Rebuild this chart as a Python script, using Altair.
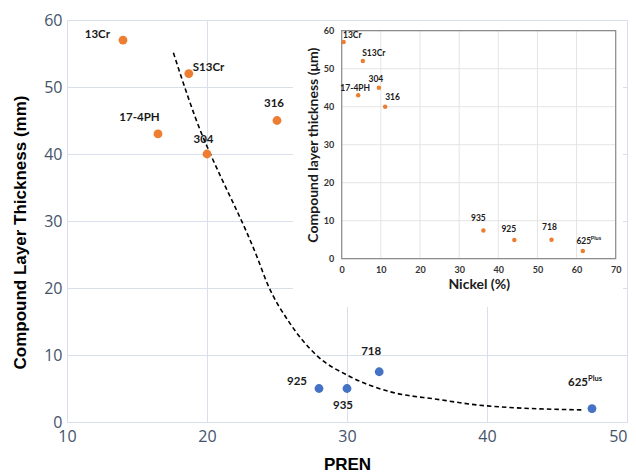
import altair as alt
import pandas as pd

# ---------------- data ----------------
# main chart: compound layer thickness vs PREN
grades = ["13Cr", "S13Cr", "17-4PH", "304", "316", "925", "935", "718", "625"]
pren = [14.0, 18.7, 16.5, 20.0, 25.0, 28.0, 30.0, 32.3, 47.5]
thickness_main = [57, 52, 43, 40, 45, 5, 5, 7.5, 2]
alloy_group = ["Stainless", "Stainless", "Stainless", "Stainless", "Stainless",
               "Nickel", "Nickel", "Nickel", "Nickel"]

# dashed trend curve
trend_pren = [17.6, 19.7, 20.2, 23.6, 24.3, 25.9, 27.8, 30.2, 33.1, 36.4, 40.0, 46.9]
trend_thk = [55.1, 42.6, 40.2, 24.5, 20.7, 14.8, 10.0, 6.8, 4.5, 3.4, 2.4, 1.8]

# inset: compound layer thickness vs nickel content
inset_grades = ["13Cr", "S13Cr", "17-4PH", "304", "316", "935", "925", "718", "625"]
nickel = [0.5, 5.4, 4.2, 9.5, 11.1, 36.2, 44.1, 53.6, 61.6]
thickness_inset = [57, 52, 43, 45, 40, 7.4, 4.9, 5.0, 2.0]

main_x_ticks = [10, 20, 30, 40, 50]
main_y_ticks = [0, 10, 20, 30, 40, 50, 60]
inset_x_ticks = [0, 10, 20, 30, 40, 50, 60, 70]
inset_y_ticks = [0, 10, 20, 30, 40, 50, 60]

main_df = pd.DataFrame({"grade": grades, "pren": pren, "thk": thickness_main, "grp": alloy_group})
trend_df = pd.DataFrame({"pren": trend_pren, "thk": trend_thk})
inset_df = pd.DataFrame({"grade": inset_grades, "ni": nickel, "thk": thickness_inset})

# ---------------- style / layout ----------------
W, H = 560, 402
ORANGE = "#ED7D31"
BLUE = "#4472C4"
LABEL_FONT = "Lato"
TITLE_FONT = "Liberation Sans"

# inset placement inside the main plot area (pixels)
IX0, IX1 = 274.7, 548.7
IY0, IY1 = 238.7, 10.7

main_x = alt.Scale(domain=[main_x_ticks[0], main_x_ticks[-1]], nice=False, zero=False)
main_y = alt.Scale(domain=[main_y_ticks[0], main_y_ticks[-1]], nice=False, zero=False)
inset_x = alt.Scale(domain=[inset_x_ticks[0], inset_x_ticks[-1]], range=[IX0, IX1], nice=False, zero=False)
inset_y = alt.Scale(domain=[inset_y_ticks[0], inset_y_ticks[-1]], range=[IY0, IY1], nice=False, zero=False)

last_x = main_x_ticks[-1]
main_x_axis = alt.Axis(values=main_x_ticks, grid=True, gridColor="#D9E0EC", gridWidth=1,
                       ticks=False, domain=False, labelFont="Open Sans", labelFontSize=16,
                       labelColor="#44546A", labelPadding=6, labelFlush=False,
                       labelAlign=alt.expr(f"datum.value == {last_x} ? 'right' : 'center'"),
                       title="PREN", titleFont=TITLE_FONT, titleFontSize=17,
                       titleFontWeight="bold", titleColor="#000000", titlePadding=12)
main_y_axis = alt.Axis(values=main_y_ticks, grid=True, gridColor="#D9E0EC", gridWidth=1,
                       ticks=False, domain=False, labelFont="Open Sans", labelFontSize=16,
                       labelColor="#44546A", labelPadding=5, labelFlush=False,
                       title="Compound Layer Thickness (mm)", titleFont=TITLE_FONT,
                       titleFontSize=17, titleFontWeight="bold", titleColor="#000000",
                       titlePadding=14, titleY=212)

inset_x_axis = alt.Axis(values=inset_x_ticks, grid=False, ticks=False, domain=False, orient="bottom",
                        offset=-(H - IY0), labelFont=LABEL_FONT, labelFontSize=9,
                        labelFontWeight="bold", labelColor="#333333", labelPadding=7,
                        labelFlush=False, title="Nickel (%)", titleFont=LABEL_FONT,
                        titleFontSize=14, titleFontWeight="bold", titleColor="#1a1a1a",
                        titlePadding=3, zindex=2)
inset_y_axis = alt.Axis(values=inset_y_ticks, grid=False, ticks=False, domain=False, orient="left",
                        offset=-IX0, labelFont=LABEL_FONT, labelFontSize=9,
                        labelFontWeight="bold", labelColor="#333333", labelPadding=8,
                        labelFlush=False, title="Compound layer thickness (μm)",
                        titleFont=LABEL_FONT, titleFontSize=14, titleFontWeight="bold",
                        titleColor="#1a1a1a", titlePadding=3, zindex=2)


def mx(field):
    return alt.X(field, scale=main_x, axis=main_x_axis)


def my(field):
    return alt.Y(field, scale=main_y, axis=main_y_axis)


def ix(field):
    return alt.X(field, scale=inset_x, axis=inset_x_axis)


def iy(field):
    return alt.Y(field, scale=inset_y, axis=inset_y_axis)


# ---------------- main chart layers ----------------
main_points = alt.Chart(main_df).mark_circle(size=78, opacity=1).encode(
    x=mx("pren:Q"),
    y=my("thk:Q"),
    color=alt.Color("grp:N", scale=alt.Scale(domain=["Stainless", "Nickel"], range=[ORANGE, BLUE]),
                    legend=None),
)

trend = alt.Chart(trend_df).mark_line(color="#000000", strokeDash=[4.5, 3], strokeWidth=1.6,
                                      interpolate="monotone").encode(
    x=mx("pren:Q"),
    y=my("thk:Q"),
)

main_label_style = {
    "13Cr": ("right", -13, -5),
    "S13Cr": ("left", 4, -6),
    "17-4PH": ("center", -18.5, -16),
    "304": ("center", -3.5, -14),
    "316": ("center", -3, -17),
    "925": ("right", -12, -7),
    "935": ("center", -4, 17),
    "718": ("center", -8, -20),
    "625": ("center", -14, -26),
}

main_layers = [trend, main_points]
for g in grades:
    al, dx, dy = main_label_style[g]
    main_layers.append(
        alt.Chart(main_df).transform_filter(alt.datum.grade == g).mark_text(
            align=al, baseline="middle", dx=dx, dy=dy, font=LABEL_FONT, fontSize=11.5,
            fontWeight="bold", color="#1a1a1a").encode(
            x=mx("pren:Q"), y=my("thk:Q"), text="grade:N")
    )
main_layers.append(
    alt.Chart(main_df).transform_filter(alt.datum.grade == "625").mark_text(
        align="left", baseline="middle", dx=-4, dy=-30, font=LABEL_FONT, fontSize=7.5,
        fontWeight="bold", color="#1a1a1a").encode(
        x=mx("pren:Q"), y=my("thk:Q"), text=alt.value("Plus"))
)
main_chart = alt.layer(*main_layers)

# ---------------- inset layers ----------------
bg = alt.Chart(pd.DataFrame({"k": [0]})).mark_rect(fill="#ffffff", stroke=None).encode(
    x=alt.value(226), x2=alt.value(556), y=alt.value(1), y2=alt.value(287)
)

vgrid = alt.Chart(pd.DataFrame({"v": inset_x_ticks})).mark_rule(color="#E4E4E4", strokeWidth=1).encode(
    x=ix("v:Q"),
    y=alt.datum(inset_y_ticks[0], scale=inset_y, axis=inset_y_axis),
    y2=alt.datum(inset_y_ticks[-1]),
)
hgrid = alt.Chart(pd.DataFrame({"v": inset_y_ticks})).mark_rule(color="#E4E4E4", strokeWidth=1).encode(
    y=iy("v:Q"),
    x=alt.datum(inset_x_ticks[0], scale=inset_x, axis=inset_x_axis),
    x2=alt.datum(inset_x_ticks[-1]),
)
frame = alt.Chart(pd.DataFrame({"x0": [inset_x_ticks[0]], "x1": [inset_x_ticks[-1]],
                                "y0": [inset_y_ticks[0]], "y1": [inset_y_ticks[-1]]})).mark_rect(
    fillOpacity=0, stroke="#8C8C8C", strokeWidth=1.2).encode(
    x=ix("x0:Q"), x2="x1:Q",
    y=iy("y0:Q"), y2="y1:Q",
)

inset_points = alt.Chart(inset_df).mark_circle(size=20, opacity=1, color=ORANGE).encode(
    x=ix("ni:Q"),
    y=iy("thk:Q"),
)

inset_label_style = {
    "13Cr": ("left", -0.7, -7),
    "S13Cr": ("left", -0.7, -8),
    "17-4PH": ("right", 12, -7.7),
    "304": ("center", -3, -8.3),
    "316": ("left", 0, -9.3),
    "935": ("center", -5, -12.7),
    "925": ("center", -5.5, -11),
    "718": ("center", -2, -13),
    "625": ("center", 1, -10.6),
}

inset_layers = [bg, vgrid, hgrid, frame, inset_points]
for g in inset_grades:
    al, dx, dy = inset_label_style[g]
    inset_layers.append(
        alt.Chart(inset_df).transform_filter(alt.datum.grade == g).mark_text(
            align=al, baseline="middle", dx=dx, dy=dy, font=LABEL_FONT, fontSize=8.5,
            fontWeight="bold", color="#1a1a1a").encode(
            x=ix("ni:Q"), y=iy("thk:Q"), text="grade:N")
    )
inset_layers.append(
    alt.Chart(inset_df).transform_filter(alt.datum.grade == "625").mark_text(
        align="left", baseline="middle", dx=8, dy=-13, font=LABEL_FONT, fontSize=5.5,
        fontWeight="bold", color="#1a1a1a").encode(
        x=ix("ni:Q"), y=iy("thk:Q"), text=alt.value("Plus"))
)
inset_chart = alt.layer(*inset_layers)

chart = alt.layer(main_chart, inset_chart).resolve_scale(
    x="independent", y="independent"
).resolve_axis(
    x="independent", y="independent"
).properties(
    width=W, height=H,
    autosize=alt.AutoSizeParams(type="none"),
    padding={"left": 59, "top": 12, "right": 1, "bottom": 50},
).configure_view(
    stroke="#999999", strokeWidth=1.6
).configure(background="#ffffff")

chart.save("out.html", embed_options={"renderer": "svg", "actions": False})
